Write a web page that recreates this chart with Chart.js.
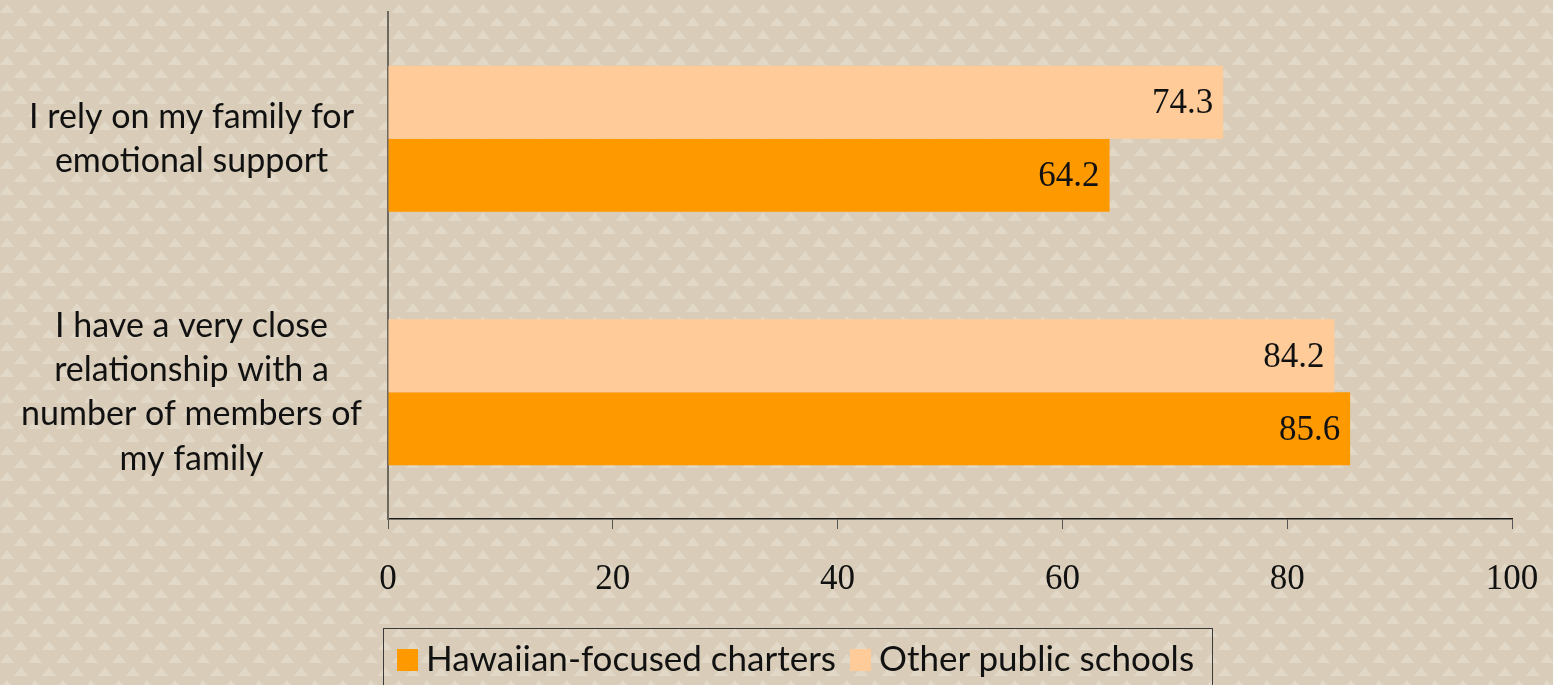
<!DOCTYPE html>
<html lang="en">
<head>
    <meta charset="UTF-8">
    <title>Family relationships</title>
    <script src="https://cdn.jsdelivr.net/npm/chart.js"></script>
    <style>
        html, body {
            margin: 0;
            padding: 0;
            width: 1553px;
            height: 685px;
            overflow: hidden;
        }
        body {
            background-color: #d9cdb9;
            background-image: url("data:image/svg+xml,%3Csvg xmlns='http://www.w3.org/2000/svg' width='28' height='26'%3E%3Cpath d='M0 13 L7 4 L14 13 Z M14 26 L21 17 L28 26 Z' fill='%23e2d8c7'/%3E%3C/svg%3E");
            position: relative;
        }
        #wrap {
            position: absolute;
            left: 0;
            top: 0;
            width: 1553px;
            height: 685px;
        }
        .legend {
            position: absolute;
            left: 383px;
            top: 628px;
            width: 830px;
            height: 70px;
            border: 1.5px solid #3a3a3a;
            box-sizing: border-box;
            font-family: Lato, "Noto Sans", sans-serif;
            font-size: 35px;
            line-height: 42px;
            color: #111;
        }
        .legend .txt {
            position: absolute;
            top: 7px;
            white-space: nowrap;
        }
        .legend .box {
            position: absolute;
            top: 20px;
            width: 21px;
            height: 22px;
        }
    </style>
</head>
<body>
    <div id="wrap"><canvas id="chart"></canvas></div>
    <div class="legend" id="legend"></div>

    <script>
        const categories = [
            ['I rely on my family for', 'emotional support'],
            ['I have a very close', 'relationship with a', 'number of members of', 'my family']
        ];
        const seriesNames = ['Other public schools', 'Hawaiian-focused charters'];
        const otherSchools = [74.3, 84.2];
        const hawaiianCharters = [64.2, 85.6];
        const xTicks = [0, 20, 40, 60, 80, 100];

        const colors = {
            'Other public schools': '#ffcc99',
            'Hawaiian-focused charters': '#ff9900'
        };

        // value labels inside the bar ends
        const valueLabels = {
            id: 'valueLabels',
            afterDatasetsDraw(chart) {
                const ctx = chart.ctx;
                ctx.save();
                ctx.font = '35px "Liberation Serif", "DejaVu Serif", serif';
                ctx.fillStyle = '#111';
                ctx.textAlign = 'right';
                ctx.textBaseline = 'middle';
                chart.data.datasets.forEach((ds, i) => {
                    chart.getDatasetMeta(i).data.forEach((bar, j) => {
                        ctx.fillText(ds.data[j].toFixed(1), bar.x - 10, bar.y + 2);
                    });
                });
                ctx.restore();
            }
        };

        new Chart(document.getElementById('chart'), {
            type: 'bar',
            data: {
                labels: categories,
                datasets: [
                    {
                        label: seriesNames[0],
                        data: otherSchools,
                        backgroundColor: colors[seriesNames[0]]
                    },
                    {
                        label: seriesNames[1],
                        data: hawaiianCharters,
                        backgroundColor: colors[seriesNames[1]]
                    }
                ]
            },
            options: {
                indexAxis: 'y',
                responsive: true,
                maintainAspectRatio: false,
                animation: false,
                categoryPercentage: 0.576,
                barPercentage: 1,
                layout: {
                    padding: { left: 0, right: 41, top: 12, bottom: 86 }
                },
                plugins: {
                    legend: { display: false },
                    tooltip: { enabled: false }
                },
                scales: {
                    x: {
                        min: 0,
                        max: 100,
                        afterBuildTicks(scale) {
                            scale.ticks = xTicks.map(v => ({ value: v }));
                        },
                        afterFit(scale) {
                            scale.height = 80;
                            scale.paddingLeft = 0;
                            scale.paddingRight = 0;
                        },
                        border: { color: '#1a1a1a', width: 1.5 },
                        grid: {
                            drawOnChartArea: false,
                            tickLength: 10,
                            color: '#555'
                        },
                        ticks: {
                            padding: 30,
                            color: '#111',
                            font: { family: '"Liberation Serif", "DejaVu Serif", serif', size: 35 }
                        }
                    },
                    y: {
                        afterFit(scale) {
                            scale.width = 388;
                            scale.paddingTop = 0;
                            scale.paddingBottom = 0;
                        },
                        border: { color: '#6e685e', width: 2 },
                        grid: { display: false, drawTicks: false },
                        ticks: {
                            crossAlign: 'center',
                            padding: 26,
                            color: '#111',
                            font: { family: 'Lato, "Noto Sans", sans-serif', size: 34, lineHeight: 1.3 }
                        }
                    }
                }
            },
            plugins: [valueLabels]
        });

        // legend: Hawaiian first, as in the original
        const legendEl = document.getElementById('legend');
        const legendOrder = [seriesNames[1], seriesNames[0]];
        const boxLeft = [13, 466];
        const textLeft = [42, 495];
        legendOrder.forEach((name, i) => {
            const box = document.createElement('span');
            box.className = 'box';
            box.style.left = boxLeft[i] + 'px';
            box.style.background = colors[name];
            legendEl.appendChild(box);
            const txt = document.createElement('span');
            txt.className = 'txt';
            txt.style.left = textLeft[i] + 'px';
            txt.textContent = name;
            legendEl.appendChild(txt);
        });
    </script>
</body>
</html>
